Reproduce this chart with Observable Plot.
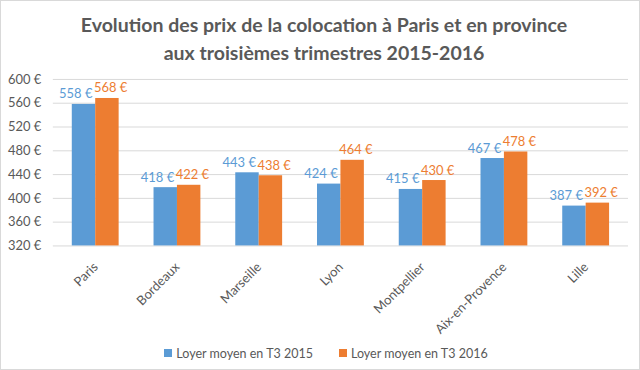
<!DOCTYPE html>
<html>
<head>
<meta charset="utf-8">
<script src="https://cdn.jsdelivr.net/npm/d3@7"></script>
<script src="https://cdn.jsdelivr.net/npm/@observablehq/plot@0.6"></script>
<style>
  html, body { margin: 0; padding: 0; background: #fff; }
  #wrap { width: 640px; height: 370px; box-sizing: border-box; border: 1px solid #d9d9d9; background: #fff; font-family: Lato, "Open Sans", sans-serif; color: #595959; position: relative; overflow: hidden; }
  #title { height: 63px; box-sizing: border-box; padding-top: 10px; padding-left: 8px; text-align: center; font-weight: bold; font-size: 19.5px; line-height: 28px; color: #595959; }
  #chart { height: 278px; }
  #legend { height: 22px; display: flex; justify-content: center; align-items: center; gap: 26px; font-size: 12.5px; color: #595959; padding-left: 12px; }
  .sw { display: inline-block; width: 8px; height: 8px; margin-right: 4px; vertical-align: middle; position: relative; top: -1px; }
</style>
</head>
<body>
<div id="wrap">
  <div id="title">Evolution des prix de la colocation à Paris et en province<br>aux troisièmes trimestres 2015-2016</div>
  <div id="chart"></div>
  <div id="legend"></div>
</div>
<script>
const cities = ["Paris", "Bordeaux", "Marseille", "Lyon", "Montpellier", "Aix-en-Provence", "Lille"];
const loyer2015 = [558, 418, 443, 424, 415, 467, 387];
const loyer2016 = [568, 422, 438, 464, 430, 478, 392];
const seriesNames = ["Loyer moyen en T3 2015", "Loyer moyen en T3 2016"];
const seriesColors = ["#5B9BD5", "#ED7D31"];
const yTicks = [320, 360, 400, 440, 480, 520, 560, 600];

const data2015 = cities.map((c, i) => ({city: c, value: loyer2015[i], series: seriesNames[0]}));
const data2016 = cities.map((c, i) => ({city: c, value: loyer2016[i], series: seriesNames[1]}));

const W = 640, H = 278, mL = 52, mR = 11, mT = 15, mB = 96;
const padIn = 0.43, padOut = 0.215;
const step = (W - mL - mR) / (cities.length - padIn + 2 * padOut);
const bw = step * (1 - padIn);
const half = bw / 2;
const fmt = d => `${d} €`;

const chart = Plot.plot({
  width: W,
  height: H,
  marginLeft: mL,
  marginRight: mR,
  marginTop: mT,
  marginBottom: mB,
  style: {fontFamily: "Lato, 'Open Sans', sans-serif", color: "#595959", background: "white"},
  x: {domain: cities, paddingInner: padIn, paddingOuter: padOut, label: null},
  y: {domain: [320, 600], label: null},
  color: {domain: seriesNames, range: seriesColors},
  marks: [
    Plot.gridY(yTicks, {stroke: "#d9d9d9", strokeOpacity: 1}),
    Plot.barY(data2015, {x: "city", y1: 320, y2: "value", fill: "series", insetRight: half}),
    Plot.barY(data2016, {x: "city", y1: 320, y2: "value", fill: "series", insetLeft: half}),
    Plot.text(data2015, {x: "city", y: "value", text: d => fmt(d.value), fill: "series", dx: -20, dy: -6, lineAnchor: "bottom", fontSize: 13}),
    Plot.text(data2016, {x: "city", y: "value", text: d => fmt(d.value), fill: "series", dx: 15, dy: -6, lineAnchor: "bottom", fontSize: 13}),
    Plot.axisY(yTicks, {tickSize: 0, tickPadding: 12, tickFormat: fmt, fontSize: 13, fill: "#595959"}),
    Plot.axisX({tickSize: 0, tickRotate: -45, tickPadding: 19, fontSize: 13, fill: "#595959"})
  ]
});
document.getElementById("chart").appendChild(chart);

const legend = document.getElementById("legend");
seriesNames.forEach((name, i) => {
  const item = document.createElement("span");
  const sw = document.createElement("span");
  sw.className = "sw";
  sw.style.background = seriesColors[i];
  item.appendChild(sw);
  item.appendChild(document.createTextNode(name));
  legend.appendChild(item);
});
</script>
</body>
</html>
